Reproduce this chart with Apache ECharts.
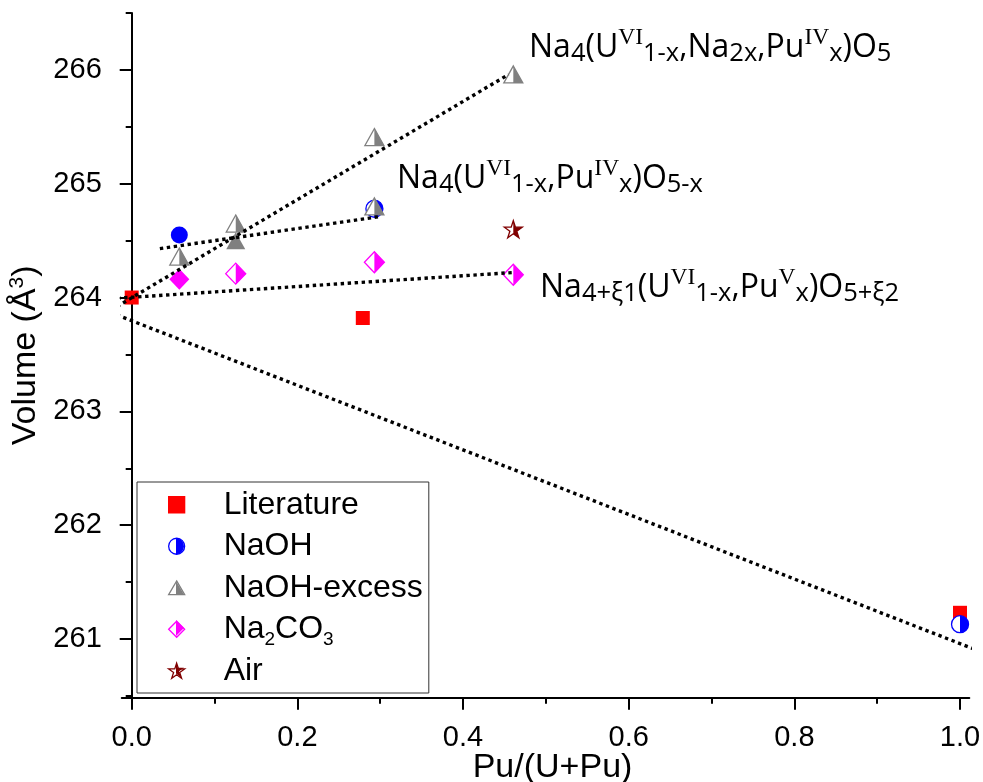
<!DOCTYPE html>
<html><head><meta charset="utf-8">
<script src="https://cdn.jsdelivr.net/npm/echarts@6/dist/echarts.min.js"></script>
<style>html,body{margin:0;padding:0;background:#fff}#c{width:983px;height:782px}</style>
</head><body><div id="c"></div>
<script>
// ---- tick values ----
const xMajorTicks = [0, 0.2, 0.4, 0.6, 0.8, 1.0];
const xMinorTicks = [0.1, 0.3, 0.5, 0.7, 0.9];
const yMajorTicks = [261, 262, 263, 264, 265, 266];
const yMinorTicks = [260.5, 261.5, 262.5, 263.5, 264.5, 265.5, 266.5];

// ---- data: [Pu/(U+Pu), Volume] ----
const literature = [[0, 264.00], [0.279, 263.82], [1.0, 261.23]];
const naoh = [[0.293, 264.78], [1.0, 261.13]];
const naohSolid = [[0.0575, 264.55]];
const naohExcess = [[0.0575, 264.36], [0.1256, 264.65], [0.293, 265.41], [0.293, 264.80], [0.4607, 265.96]];
const naohExcessSolid = [[0.1256, 264.50]];
const na2co3 = [[0.1256, 264.21], [0.293, 264.31], [0.4607, 264.20]];
const na2co3Solid = [[0.0575, 264.16]];
const air = [[0.4607, 264.60]];

// ---- dotted trend lines ----
const trendNa2x = [[-0.025, 263.89], [0.455, 265.96]];
const trendPuIV = [[0.034, 264.43], [0.298, 264.71]];
const trendPuV = [[-0.026, 263.99], [0.461, 264.22]];
const trendEnd = [[-0.026, 263.87], [1.028, 260.88]];

// ---- marker shapes ----
const SYM = {
  circleFull: 'path://M10,0A10,10,0,1,1,10,20A10,10,0,1,1,10,0Z',
  circleHalf: 'path://M0,10L0,10M10,0A10,10,0,0,1,10,20Z',
  triFull: 'path://M10,0L20,17L0,17Z',
  triHalf: 'path://M0,17L0,17M10,0L20,17L10,17Z',
  diaFull: 'path://M10,0L20,10L10,20L0,10Z',
  diaHalf: 'path://M0,10L0,10M10,0L20,10L10,20Z',
  starFull: 'path://M10,0L12.245,6.91L19.511,6.91L13.633,11.18L15.878,18.09L10,13.82L4.122,18.09L6.367,11.18L0.489,6.91L7.755,6.91Z',
  starHalf: 'path://M0.489,6.91L0.489,6.91M10,0L12.245,6.91L19.511,6.91L13.633,11.18L15.878,18.09L10,13.82Z'
};
const C = { red: '#ff0000', blue: '#0000ff', gray: '#808080', mag: '#ff00ff', air: '#800000' };

function hollow(name, data, sym, size, color) {
  return { name, type: 'scatter', data, symbol: sym, symbolSize: size, z: 3, silent: true,
    itemStyle: { color: '#ffffff', borderColor: color, borderWidth: 1.3, opacity: 1 } };
}
function filled(name, data, sym, size, color) {
  return { name, type: 'scatter', data, symbol: sym, symbolSize: size, z: 3, silent: true,
    itemStyle: { color: color, borderColor: color, borderWidth: 0, opacity: 1 } };
}
function trend(data) {
  return { type: 'line', data, symbol: 'none', clip: false, z: 6, silent: true,
    lineStyle: { color: '#000', width: 3.4, type: [3.4, 3.6] } };
}

const FONT = 'Liberation Sans';
const annRich = {
  m: { fontFamily: 'Open Sans', fontSize: 32, lineHeight: 40, fill: '#000' },
  s: { fontFamily: 'Open Sans', fontSize: 25.5, lineHeight: 40, padding: [12, 0, 0, 0], fill: '#000' },
  p: { fontFamily: 'Liberation Serif', fontSize: 23.5, lineHeight: 40, padding: [0, 0, 19, 0], fill: '#000' }
};
const legendRich = {
  m: { fontFamily: FONT, fontSize: 32, lineHeight: 41.5, color: '#000' },
  s: { fontFamily: FONT, fontSize: 19, lineHeight: 41.5, padding: [22, 0, 0, 0], color: '#000' }
};

const option = {
  animation: false,
  backgroundColor: '#ffffff',
  textStyle: { fontFamily: FONT },
  grid: { left: 121.76, right: 13.7, top: 13, bottom: 84.3, containLabel: false, outerBoundsMode: 'none' },
  xAxis: [
    { type: 'value', min: -0.012, max: 1.0112, position: 'bottom',
      axisLine: { onZero: false, lineStyle: { color: '#000', width: 2 } },
      axisTick: { customValues: xMajorTicks, length: 12, lineStyle: { color: '#000', width: 2 } },
      axisLabel: { customValues: xMajorTicks, formatter: v => v.toFixed(1), fontSize: 29, fontFamily: FONT, color: '#000', margin: 26 },
      splitLine: { show: false },
      name: 'Pu/(U+Pu)', nameLocation: 'middle', nameGap: 53, nameMoveOverlap: false,
      nameTextStyle: { fontSize: 34, fontFamily: FONT, color: '#000', padding: [0, 0, 0, 14] } },
    { type: 'value', min: -0.012, max: 1.0112, position: 'bottom',
      axisLine: { show: false, onZero: false },
      axisTick: { customValues: xMinorTicks, length: 6, lineStyle: { color: '#000', width: 2 } },
      axisLabel: { show: false }, splitLine: { show: false } }
  ],
  yAxis: [
    { type: 'value', min: 260.484, max: 266.5, position: 'left',
      axisLine: { onZero: true, onZeroAxisIndex: 0, lineStyle: { color: '#000', width: 2 } },
      axisTick: { customValues: yMajorTicks, length: 12, lineStyle: { color: '#000', width: 2 } },
      axisLabel: { customValues: yMajorTicks, formatter: v => String(v), fontSize: 29, fontFamily: FONT, color: '#000', margin: 20 },
      splitLine: { show: false },
      name: '{a|Volume (Å}{b|3}{a|)}', nameLocation: 'middle', nameGap: 78, nameMoveOverlap: false,
      nameTextStyle: { rich: {
        a: { fontSize: 34, fontFamily: FONT, color: '#000' },
        b: { fontSize: 21, fontFamily: FONT, color: '#000', padding: [0, 0, 16, 0] } } } },
    { type: 'value', min: 260.484, max: 266.5, position: 'left',
      axisLine: { show: false, onZero: true, onZeroAxisIndex: 1 },
      axisTick: { customValues: yMinorTicks, length: 6, lineStyle: { color: '#000', width: 2 } },
      axisLabel: { show: false }, splitLine: { show: false } }
  ],
  legend: [
    { data: ['Literature', 'NaOH', 'NaOH-excess', 'Na2CO3', 'Air'],
      orient: 'vertical', left: 137, top: 482, itemWidth: 16, itemHeight: 16, itemGap: 0,
      padding: [2, 6, 1.5, 31], backgroundColor: '#ffffff', borderColor: '#333', borderWidth: 1,
      selectedMode: false, itemStyle: { borderWidth: 1.3 },
      formatter: n => n === 'Na2CO3' ? '{m|Na}{s|2}{m|CO}{s|3}' : '{m|' + n + '}',
      textStyle: { padding: [0, 0, 0, 34], lineHeight: 41.5, backgroundColor: 'rgba(255,255,255,0)', rich: legendRich } },
    { data: ['NaOH·half', 'NaOH-excess·half', 'Na2CO3·half', 'Air·half'],
      orient: 'vertical', left: 168, top: 538.25, itemWidth: 16, itemHeight: 16, itemGap: 25.5,
      padding: 0, selectedMode: false, itemStyle: { borderWidth: 0 },
      formatter: () => '' }
  ],
  series: [
    filled('Literature', literature, 'rect', 14, C.red),
    hollow('NaOH', naoh, SYM.circleFull, 17, C.blue),
    filled('NaOH·half', naoh, SYM.circleHalf, 17, C.blue),
    filled('NaOH·solid', naohSolid, SYM.circleFull, 17, C.blue),
    hollow('NaOH-excess', naohExcess, SYM.triFull, [19, 17], C.gray),
    filled('NaOH-excess·half', naohExcess, SYM.triHalf, [19, 17], C.gray),
    filled('NaOH-excess·solid', naohExcessSolid, SYM.triFull, [19, 17], C.gray),
    hollow('Na2CO3', na2co3, SYM.diaFull, [20, 21], C.mag),
    filled('Na2CO3·half', na2co3, SYM.diaHalf, [20, 21], C.mag),
    filled('Na2CO3·solid', na2co3Solid, SYM.diaFull, [20, 21], C.mag),
    hollow('Air', air, SYM.starFull, [18, 17], C.air),
    filled('Air·half', air, SYM.starHalf, [18, 17], C.air),
    trend(trendNa2x), trend(trendPuIV), trend(trendPuV), trend(trendEnd)
  ],
  graphic: [
    { type: 'text', left: 529, top: 26, z: 10, silent: true,
      style: { fill: '#000', rich: annRich,
        text: '{m|Na}{s|4}{m|(U}{p|VI}{s|1-x}{m|,Na}{s|2x}{m|,Pu}{p|IV}{s|x}{m|)O}{s|5}' } },
    { type: 'text', left: 397, top: 157, z: 10, silent: true,
      style: { fill: '#000', rich: annRich,
        text: '{m|Na}{s|4}{m|(U}{p|VI}{s|1-x}{m|,Pu}{p|IV}{s|x}{m|)O}{s|5-x}' } },
    { type: 'text', left: 540, top: 266, z: 10, silent: true,
      style: { fill: '#000', rich: annRich,
        text: '{m|Na}{s|4+ξ1}{m|(U}{p|VI}{s|1-x}{m|,Pu}{p|V}{s|x}{m|)O}{s|5+ξ2}' } }
  ]
};
echarts.init(document.getElementById('c'), null, { renderer: 'canvas' }).setOption(option);
</script>
</body></html>
